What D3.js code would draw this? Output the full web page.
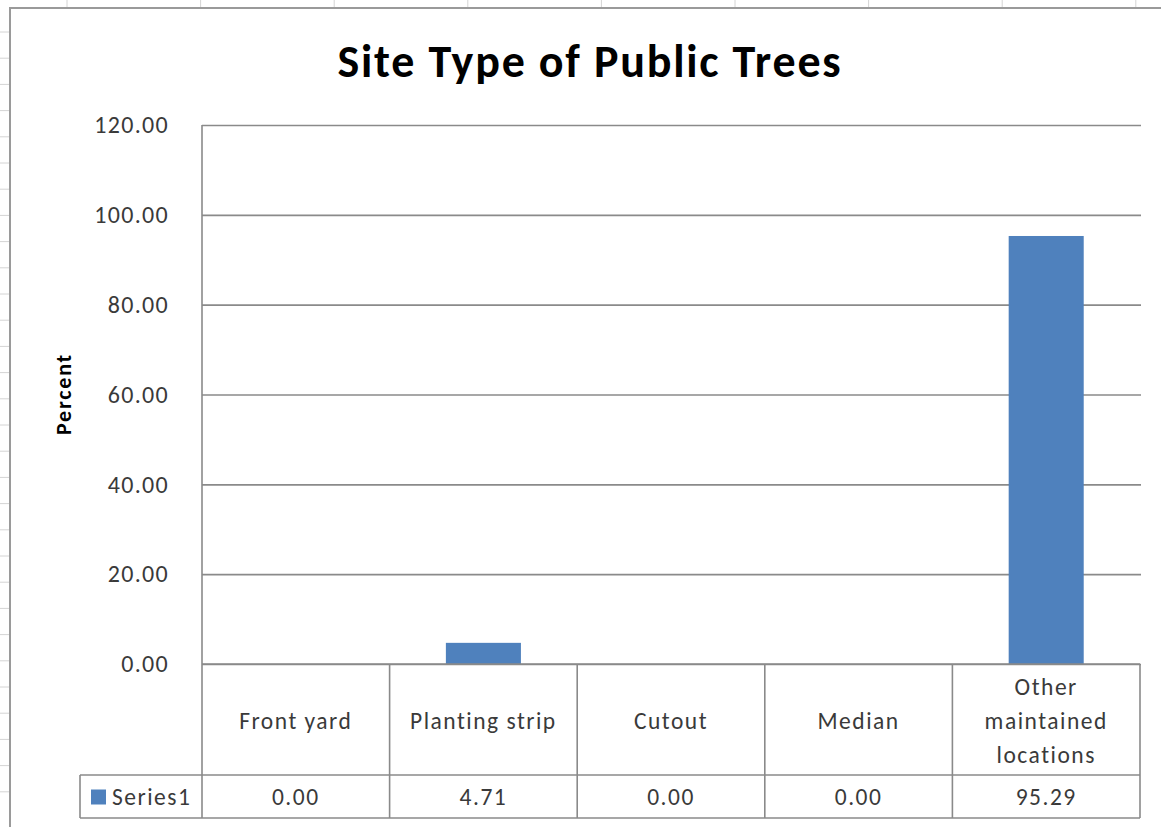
<!DOCTYPE html>
<html>
<head>
<meta charset="utf-8">
<script src="https://cdn.jsdelivr.net/npm/d3@7"></script>
<style>
  html, body { margin: 0; padding: 0; background: #ffffff; }
  svg { display: block; }
  text { font-family: Carlito, Lato, "Open Sans", sans-serif; }
</style>
</head>
<body>
<svg id="chart" width="1161" height="827"></svg>
<script>
// Site type of public trees (percent of inventory)
const categories = ["Front yard", "Planting strip", "Cutout", "Median", "Other maintained locations"];
const categoryLabelLines = [["Front yard"], ["Planting strip"], ["Cutout"], ["Median"], ["Other", "maintained", "locations"]];
const seriesName = "Series1";
const percentValues = [0.00, 4.71, 0.00, 0.00, 95.29];
const yTicks = [0, 20, 40, 60, 80, 100, 120];
const chartTitle = "Site Type of Public Trees";
const yAxisTitle = "Percent";

const svg = d3.select("#chart");
const W = 1161, H = 827;
const gridGray = "#8a8a8a";
const textGray = "#3a3a3a";
const barBlue = "#4f81bd";

svg.append("rect").attr("width", W).attr("height", H).attr("fill", "#ffffff");

// worksheet cell lines visible around the chart object
const sheet = svg.append("g");
d3.range(9).forEach(i => {
  const x = 67 + i * 133.6;
  sheet.append("line").attr("x1", x).attr("x2", x).attr("y1", 0).attr("y2", 8)
    .attr("stroke", "#d4d4d4").attr("stroke-width", 1);
});
d3.range(30).forEach(i => {
  const y = 32 + i * 26.2;
  sheet.append("line").attr("x1", 0).attr("x2", 10).attr("y1", y).attr("y2", y)
    .attr("stroke", "#d4d4d4").attr("stroke-width", 1);
});

// chart object frame
svg.append("path")
  .attr("d", `M10,${H} L10,8 L${W},8`)
  .attr("fill", "none").attr("stroke", "#9a9a9a").attr("stroke-width", 2);

// plot area
const plot = { left: 202, right: 1140, top: 125, bottom: 664 };

const y = d3.scaleLinear().domain([0, 120]).range([plot.bottom, plot.top]);
const xCol = d3.scaleBand().domain(categories).range([plot.left, plot.right]).padding(0);
const xBar = d3.scaleBand().domain(categories).range([plot.left, plot.right])
  .paddingInner(0.6).paddingOuter(0.3);

// horizontal gridlines with value labels
const yAxis = d3.axisLeft(y).tickValues(yTicks).tickFormat(d3.format(".2f"))
  .tickSize(-(plot.right + 1 - plot.left)).tickPadding(33);
const gy = svg.append("g").attr("transform", `translate(${plot.left},0)`).call(yAxis);
gy.select(".domain").remove();
gy.selectAll(".tick line").attr("stroke", gridGray).attr("stroke-width", 1.6);
gy.selectAll(".tick text")
  .attr("fill", textGray).attr("font-size", 24).attr("letter-spacing", 1.3)
  .attr("dy", "0.32em");

// left edge of plot area
svg.append("line")
  .attr("x1", plot.left).attr("x2", plot.left)
  .attr("y1", plot.top).attr("y2", plot.bottom)
  .attr("stroke", gridGray).attr("stroke-width", 1.6);

// bars
svg.append("g").selectAll("rect")
  .data(categories.map((c, i) => ({ c, v: percentValues[i] })))
  .join("rect")
  .attr("x", d => xBar(d.c))
  .attr("width", xBar.bandwidth())
  .attr("y", d => y(d.v))
  .attr("height", d => y(0) - y(d.v))
  .attr("fill", barBlue);

// data table under the plot
const table = { headerTop: plot.bottom, rowTop: 775, bottom: 818, legendLeft: 80 };
const tbl = svg.append("g").attr("stroke", gridGray).attr("stroke-width", 1.6);
tbl.append("line").attr("x1", plot.left).attr("x2", plot.right)
  .attr("y1", table.headerTop).attr("y2", table.headerTop);
tbl.append("line").attr("x1", table.legendLeft).attr("x2", plot.right)
  .attr("y1", table.rowTop).attr("y2", table.rowTop);
tbl.append("line").attr("x1", table.legendLeft).attr("x2", plot.right)
  .attr("y1", table.bottom).attr("y2", table.bottom);
tbl.append("line").attr("x1", table.legendLeft).attr("x2", table.legendLeft)
  .attr("y1", table.rowTop).attr("y2", table.bottom);
const colEdges = categories.map(c => xCol(c)).concat([plot.right]);
colEdges.forEach(x => {
  tbl.append("line").attr("x1", x).attr("x2", x)
    .attr("y1", table.headerTop).attr("y2", table.bottom);
});

// category headers
const labelSize = 23.5, labelSpacing = 1.5;
const lineGap = 34;
const headerMid = (table.headerTop + table.rowTop) / 2 + 1;
categories.forEach((c, i) => {
  const lines = categoryLabelLines[i];
  const cx = xCol(c) + xCol.bandwidth() / 2;
  const t = svg.append("text")
    .attr("x", cx).attr("text-anchor", "middle")
    .attr("fill", textGray).attr("font-size", labelSize).attr("letter-spacing", labelSpacing);
  lines.forEach((ln, k) => {
    t.append("tspan").attr("x", cx)
      .attr("y", headerMid + (k - (lines.length - 1) / 2) * lineGap)
      .attr("dy", "0.35em").text(ln);
  });
});

// value row
const rowMid = (table.rowTop + table.bottom) / 2;
svg.append("g").selectAll("text")
  .data(categories.map((c, i) => ({ c, v: percentValues[i] })))
  .join("text")
  .attr("x", d => xCol(d.c) + xCol.bandwidth() / 2)
  .attr("y", rowMid).attr("dy", "0.35em")
  .attr("text-anchor", "middle")
  .attr("fill", textGray).attr("font-size", labelSize).attr("letter-spacing", labelSpacing)
  .text(d => d3.format(".2f")(d.v));

// legend key inside the table
svg.append("rect")
  .attr("x", 91).attr("y", rowMid - 7).attr("width", 15).attr("height", 15)
  .attr("fill", barBlue);
svg.append("text")
  .attr("x", 112).attr("y", rowMid).attr("dy", "0.35em")
  .attr("fill", textGray).attr("font-size", labelSize).attr("letter-spacing", labelSpacing)
  .text(seriesName);

// axis title
svg.append("text")
  .attr("transform", `translate(71,${394}) rotate(-90)`)
  .attr("text-anchor", "middle")
  .attr("font-weight", "900").attr("font-size", 22).attr("letter-spacing", 1.8)
  .attr("fill", "#000000")
  .text(yAxisTitle);

// chart title
svg.append("text")
  .attr("x", 590).attr("y", 77)
  .attr("text-anchor", "middle")
  .attr("font-weight", "bold").attr("font-size", 46).attr("letter-spacing", 1.8)
  .attr("fill", "#000000")
  .text(chartTitle);
</script>
</body>
</html>
